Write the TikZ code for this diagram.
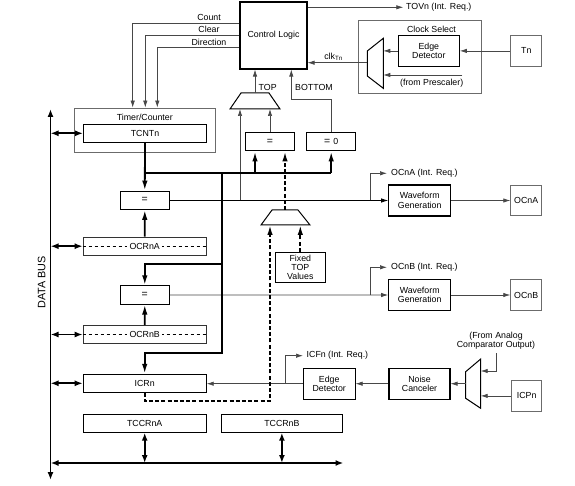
\documentclass[tikz,border=0pt]{standalone}
\usepackage{fontspec}
\setmainfont{Liberation Sans}
\usepackage{tikz}
\usetikzlibrary{
  arrows.meta,
  calc
}
\colorlet{wirecol}{black!72}
\colorlet{framecol}{black!58}

\begin{document}
\begin{tikzpicture}[x=1pt,y=-1pt,
  every node/.style={font=\fontsize{8.8}{9.3}\selectfont,inner sep=0pt},
  reg box/.style={draw,line width=1pt,minimum width=123pt,minimum height=18pt},
  cmp box/.style={draw,line width=1pt,minimum width=49pt,minimum height=18.3pt,font=\fontsize{10.5}{11}\selectfont},
  unit box/.style={draw,line width=1.1pt,minimum width=61pt,minimum height=31pt,align=center},
  pin box/.style={draw=framecol,line width=0.8pt,minimum width=31pt,minimum height=30.7pt},
  frame box/.style={draw=framecol,line width=0.8pt},
  mux/.style={draw,line width=1pt},
  signal/.style={draw=wirecol,line width=0.7pt,-{Latex[length=7pt,width=4.4pt]}},
  bus/.style={line width=1.8pt},
  bus arrow/.style={bus,-{Latex[length=10pt,width=5.5pt]}},
  both ways/.style={bus,{Latex[length=8pt,width=6pt]}-{Latex[length=8pt,width=6pt]}},
  top path/.style={bus arrow,dash pattern=on 4pt off 2.2pt},
]
\useasboundingbox (0,0) rectangle (575,486);

% control logic and clock select
\node[unit box,minimum width=67pt,minimum height=67pt] (ctrl) at (273.5,35.5) {Control Logic};
\node[frame box,minimum width=122.7pt,minimum height=72.6pt] (clksel) at (419.7,57) {};
\node (clksellbl) at (431.5,29) {Clock Select};
\node[unit box] (edgeclk) at (428.8,50.9) {Edge\\Detector};
\node[pin box] (tn) at (526.3,50.9) {Tn};
\draw[mux] (367.3,51) -- (383.3,38.3) -- (383.3,88.3) -- (367.3,76) -- cycle;
\coordinate (clkout) at (367.3,62.7);
\coordinate (clkina) at (383.3,50.9);
\coordinate (clkinb) at (383.3,75);
\coordinate (presc) at (462.3,75);
\node (presclbl) at (431.7,83) {(from Prescaler)};
\node (clklbl) at (333.5,56.5) {clk\textsubscript{Tn}};
\coordinate (tov) at (403.3,7.3);
\node[anchor=west] (tovlbl) at (406,7.3) {TOVn (Int. Req.)};

\draw[signal] (tn.west) -- (edgeclk.east);
\draw[signal] (edgeclk.west) -- (clkina);
\draw[signal] (presc) -- (clkinb);
\draw[signal] (clkout) -- (ctrl.east |- clkout);
\draw[signal] (ctrl.east |- tov) -- (tov);

% counter
\node[frame box,minimum width=141pt,minimum height=44pt] (tc) at (144.8,130) {};
\node (tclbl) at (144.8,117) {Timer/Counter};
\node[reg box] (tcnt) at (145,133.3) {TCNTn};

\coordinate (count) at (132.7,23.3);
\coordinate (clear) at (145.3,35.3);
\coordinate (dir) at (157.3,47.7);
\foreach \s in {count,clear,dir}
  \draw[signal] (ctrl.west |- \s) -| (\s |- tc.north);
\node[anchor=base] (countlbl) at (209,20.8) {Count};
\node[anchor=base] (clearlbl) at (209,32.8) {Clear};
\node[anchor=base] (dirlbl) at (209,45.2) {Direction};

% TOP / BOTTOM selection
\draw[mux] (230,109) -- (241,93) -- (269,93) -- (280,109) -- cycle;
\coordinate (topout) at (255,93);
\coordinate (topina) at (240,109);
\coordinate (topinb) at (270,109);
\node[anchor=base west] (toplbl) at (258.5,91) {TOP};
\node[anchor=base west] (botlbl) at (295,91) {BOTTOM};
\coordinate (bottom) at (291.3,99.3);
\node[cmp box] (cmptop) at (270,141.8) {=};
\node[cmp box] (cmpbot) at (331.2,141.8) {= {\fontsize{8.8}{9}\selectfont 0}};

\draw[signal] (topout) -- (topout |- ctrl.south);
\draw[signal] (cmptop.north) -- (topinb);
\draw[signal] (cmpbot.north) |- (bottom) -- (bottom |- ctrl.south);

% compare registers
\node[cmp box] (cmpa) at (144.8,200.2) {=};
\node[reg box,draw=black!80] (ocra) at (144.7,246.2) {};
\node[cmp box] (cmpb) at (144.8,294.9) {=};
\node[reg box,draw=black!80] (ocrb) at (144.7,334.5) {};
\node[reg box] (icr) at (144.7,383.3) {ICRn};
\node[reg box] (tccra) at (144.7,423.2) {TCCRnA};
\node[reg box,minimum width=121.7pt] (tccrb) at (281.9,423.2) {TCCRnB};
\foreach \r/\t in {ocra/OCRnA,ocrb/OCRnB} {
  \draw[dashed,line width=0.6pt] (\r.west) -- (\r.east);
  \node[fill=white,inner xsep=2.5pt,inner ysep=1pt] (\r lbl) at (\r) {\t};
}

% fixed TOP values
\node[draw,line width=0.9pt,minimum width=49.3pt,minimum height=30.4pt,align=center] (fixtop) at (300.3,267.5) {Fixed\\TOP\\Values};
\draw[mux] (261,225) -- (272,210) -- (298,210) -- (310,225) -- cycle;
\coordinate (fixout) at (285,210);
\coordinate (fixina) at (270,225);
\coordinate (loop) at (270,401);

% waveform outputs
\node[unit box,minimum width=62pt] (wga) at (419.7,200.5) {Waveform\\Generation};
\node[pin box] (ocna) at (526.2,200.5) {OCnA};
\node[unit box,minimum width=62pt] (wgb) at (419.7,295) {Waveform\\Generation};
\node[pin box] (ocnb) at (526.2,295) {OCnB};
\coordinate (tapa) at (240,200.5);
\coordinate (bra) at (370.7,200.5);
\coordinate (irqa) at (387,173.3);
\coordinate (brb) at (370.7,295);
\coordinate (irqb) at (387,267.3);
\node[anchor=west] (irqalbl) at (391,173.3) {OCnA (Int. Req.)};
\node[anchor=west] (irqblbl) at (391,267.3) {OCnB (Int. Req.)};

\draw[signal,draw=black] (cmpa.east |- bra) -- (wga.west);
\draw[signal] (cmpb.east) -- (wgb.west);
\draw[signal] (bra) |- (irqa);
\draw[signal] (brb) |- (irqb);
\draw[signal] (tapa) -- (topina);
\draw[signal] (wga.east) -- (ocna.west);
\draw[signal] (wgb.east) -- (ocnb.west);

% input capture
\node[unit box,minimum width=51.7pt] (edgeic) at (329.2,383.7) {Edge\\Detector};
\node[unit box] (noise) at (419.5,383.7) {Noise\\Canceler};
\node[pin box,minimum width=30pt] (icpn) at (526.7,395.9) {ICPn};
\draw[mux] (465.7,371.7) -- (480.7,359) -- (480.7,408.3) -- (465.7,398.3) -- cycle;
\coordinate (icout) at (465.7,383.7);
\coordinate (icina) at (480.7,371);
\coordinate (icinb) at (480.7,395.9);
\coordinate (acmp) at (496,353);
\node[align=center] (acmplbl) at (496,340.5) {(From Analog\\Comparator Output)};
\coordinate (bri) at (285,383.7);
\coordinate (irqi) at (303,355.7);
\node[anchor=west] (irqilbl) at (306.5,355.7) {ICFn (Int. Req.)};

\draw[signal] (icpn.west) -- (icinb);
\draw[signal] (acmp) |- (icina);
\draw[signal] (icout) -- (noise.east);
\draw[signal] (noise.west) -- (edgeic.east);
\draw[signal] (edgeic.west) -- (edgeic.west -| icr.east);
\draw[signal] (bri) |- (irqi);

% counter bus
\coordinate (bus) at (221.7,173);
\coordinate (trb) at (221.7,264.3);
\coordinate (tri) at (221.7,352.7);
\draw[bus arrow] (tcnt.south) -- (cmpa.north);
\draw[bus] (tcnt.south |- bus) -- (cmpbot.south |- bus);
\draw[bus arrow] (topout |- bus) -- (topout |- cmptop.south);
\draw[bus arrow] (cmpbot.south |- bus) -- (cmpbot.south);
\draw[bus arrow] (bus) -- (tri) -| (icr.north);
\draw[bus arrow] (trb) -| (cmpb.north);
\draw[bus arrow] (ocra.north) -- (cmpa.south);
\draw[bus arrow] (ocrb.north) -- (cmpb.south);

% TOP value paths
\draw[top path] (icr.south) |- (loop) -- (fixina);
\draw[top path] (fixtop.north) -- (fixtop.north |- fixina);
\draw[top path] (fixout) -- (fixout |- cmptop.south);

% data bus
\coordinate (dbtop) at (50.5,109);
\coordinate (dbbot) at (50.5,480);
\coordinate (bbr) at (343.5,463);
\node[rotate=90,font=\fontsize{10.8}{12}\selectfont] (dbuslbl) at (41.7,282.5) {DATA BUS};
\draw[both ways] (dbbot) -- (dbtop);
\foreach \r in {tcnt,ocra,ocrb,icr}
  \draw[both ways] (dbtop |- \r.west) -- (\r.west);
\draw[both ways] (dbtop |- bbr) -- (bbr);
\foreach \r in {tccra,tccrb}
  \draw[both ways] (\r.south) -- (\r.south |- bbr);
\end{tikzpicture}
\end{document}
